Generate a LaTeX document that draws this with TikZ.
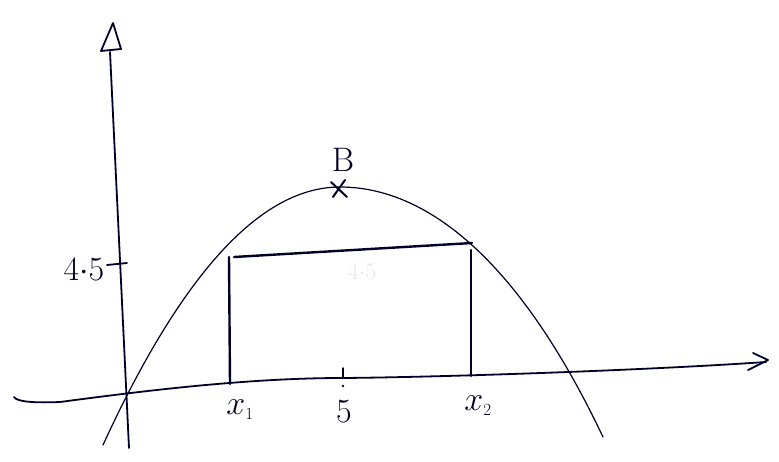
\RequirePackage{fix-cm}
\documentclass[tikz,border=0pt]{standalone}
\begin{document}
\begin{tikzpicture}[x=1pt,y=-1pt,
  ink/.style={draw=black!85!blue, line cap=round, line join=round},
  axisline/.style={ink, line width=1.8pt},
  curveline/.style={ink, line width=1.2pt},
  boxline/.style={ink, line width=2.4pt},
  lbl/.style={text=black!85!blue, inner sep=0pt, font=\fontsize{34}{34}\selectfont}]
\useasboundingbox (0,0) rectangle (779,461);
\fill[white] (0,0) rectangle (779,461);
% y-axis
\draw[axisline] (129,448) -- (110,52);
\draw[axisline] (101,51) -- (113,23) -- (121,49) -- cycle;
% x-axis
\draw[axisline] (14,397) .. controls (17,402) and (35,403) .. (60,402)
  .. controls (150,390) and (250,378) .. (343,378)
  .. controls (450,377) and (650,370) .. (766,362);
\draw[axisline] (753,353) -- (768,360) -- (748,370);
% parabola
\draw[curveline] (103,445) .. controls (182,273) and (261,187) .. (340,187)
  .. controls (428,187) and (520,262) .. (603,437);
% rectangle
\draw[boxline] (229,257) -- (230,384);
\draw[boxline] (234,257) -- (472,243);
\draw[boxline] (471,250) -- (471,376);
% faint erased label
\node[text=black!9, inner sep=0pt, font=\fontsize{24}{24}\selectfont] (faint) at (362,272) {4$\cdot$5};
% tick on y-axis and label
\draw[axisline] (107,265) -- (127,263);
\node[lbl] (yl) at (84,269) {4$\cdot$5};
% vertex B
\draw[axisline, line width=2pt] (331,182) -- (347,197);
\draw[axisline, line width=2pt] (345,180) -- (333,197);
\node[lbl] (B) at (343,160) {B};
% tick at 5
\draw[axisline, line width=1.5pt] (343,368) -- (343,377);
\fill[black!85!blue] (343,386) circle (1.3);
\node[lbl] (five) at (344,412) {5};
% x labels
\node[lbl] (x1) at (240,410) {$x_{\scriptscriptstyle 1}$};
\node[lbl] (x2) at (478,406) {$x_{\scriptscriptstyle 2}$};
\end{tikzpicture}
\end{document}
